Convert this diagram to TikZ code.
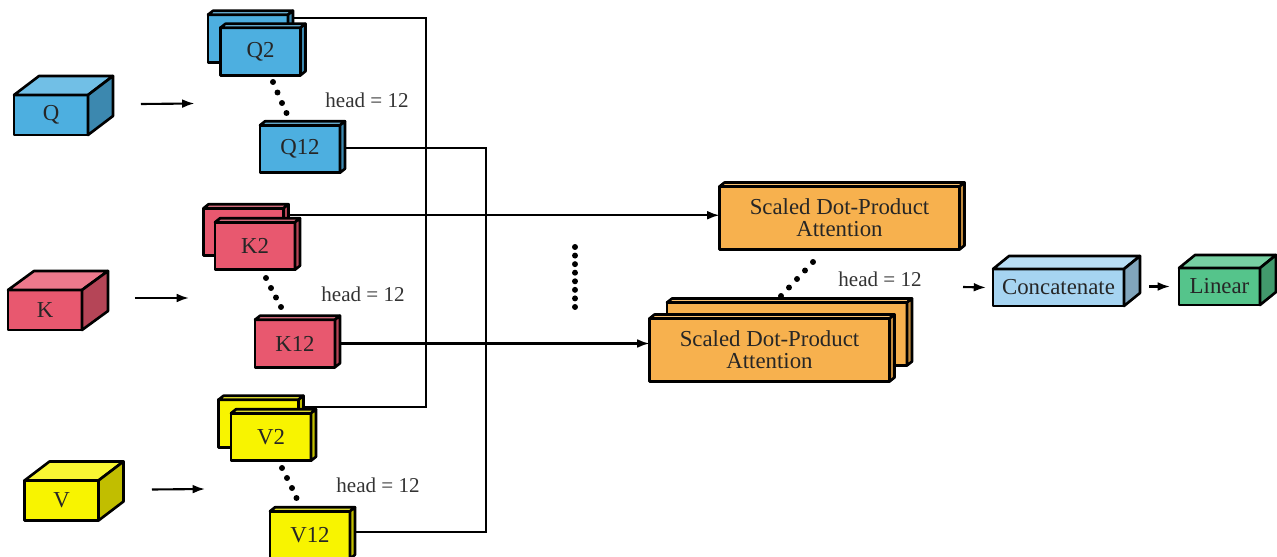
\documentclass[tikz,border=0pt]{standalone}
\usepackage{fontspec}
\setmainfont{Liberation Serif}
\usetikzlibrary{arrows.meta, calc}
\definecolor{qblue}{HTML}{4DAFE0}
\definecolor{kred}{HTML}{E8586F}
\definecolor{vyellow}{HTML}{F8F400}
\definecolor{attorange}{HTML}{F7B14E}
\definecolor{catblue}{HTML}{A6D4F1}
\definecolor{lingreen}{HTML}{55C48B}

% top and right faces of a box node: node, depth x, depth y, colour
\newcommand{\boxsides}[4]{%
  \filldraw[boxline, fill=#4!80!white] (#1.north west) -- ++(#2,-#3)
    -- ($(#1.north east)+(#2,-#3)$) -- (#1.north east) -- cycle;
  \filldraw[boxline, fill=#4!78!black] (#1.north east) -- ++(#2,-#3)
    -- ($(#1.south east)+(#2,-#3)$) -- (#1.south east) -- cycle;
}

\begin{document}
\begin{tikzpicture}[
      x=0.02cm, y=-0.02cm,
      boxline/.style={draw, line width=1.5pt, line join=round},
      block/.style={boxline, outer sep=0pt, inner sep=0pt,
        font=\fontsize{13}{12.5}\selectfont, text=black!85},
      bigbox/.style={block, minimum width=1.48cm, minimum height=0.8cm},
      card/.style={block, minimum width=1.6cm, minimum height=0.95cm},
      attbox/.style={block, fill=attorange, minimum width=4.8cm,
        minimum height=1.26cm, align=center},
      headlbl/.style={font=\fontsize{12}{14}\selectfont, text=black!80},
      link/.style={line width=1.2pt},
      >={Latex[length=7pt,width=5pt]}
    ]
      \useasboundingbox (0,0) rectangle (1277,557);

      % inputs
      \node[bigbox, fill=qblue] (Q) at (51,115) {Q};
      \boxsides{Q}{25}{19}{qblue}
      \node[bigbox, fill=kred] (K) at (45,310) {K};
      \boxsides{K}{26}{19}{kred}
      \node[bigbox, fill=vyellow] (V) at (61.5,500.5) {V};
      \boxsides{V}{25}{19}{vyellow}

      % split into heads
      \node[card, fill=qblue] (Q2b) at (248,38.5) {};
      \boxsides{Q2b}{5}{4}{qblue}
      \node[card, fill=qblue] (Q2f) at (260.5,51.5) {Q2};
      \boxsides{Q2f}{5}{4}{qblue}
      \node[card, fill=qblue] (Q12) at (300,149) {Q12};
      \boxsides{Q12}{5}{4}{qblue}

      \node[card, fill=kred] (K2b) at (243.5,232) {};
      \boxsides{K2b}{5}{4}{kred}
      \node[card, fill=kred] (K2f) at (255,246) {K2};
      \boxsides{K2f}{5}{4}{kred}
      \node[card, fill=kred] (K12) at (295,343.5) {K12};
      \boxsides{K12}{5}{4}{kred}

      \node[card, fill=vyellow] (V2b) at (258.5,423.5) {};
      \boxsides{V2b}{5}{4}{vyellow}
      \node[card, fill=vyellow] (V2f) at (271,437) {V2};
      \boxsides{V2f}{5}{4}{vyellow}
      \node[card, fill=vyellow] (V12) at (310,535) {V12};
      \boxsides{V12}{5}{4}{vyellow}

      \draw[link, ->] ($(Q.east)+(53,-11)$) -- ($(Q2f.west)+(-26,52)$);
      \draw[link, ->] ($(K.east)+(53,-12)$) -- ($(K2f.west)+(-26,52)$);
      \draw[link, ->] ($(V.east)+(53.5,-11)$) -- ($(V2f.west)+(-26,52)$);

      \foreach \x/\y in {273/82, 277.5/92.5, 282/103, 286.5/113,
                         266/278, 271/288, 276/297.5, 281/307,
                         282/468, 287/478, 292/488, 296.5/498}
        \fill (\x,\y) circle[radius=1.7pt];

      \node[headlbl] (hq) at (367,100) {head = 12};
      \node[headlbl] (hk) at (363,294) {head = 12};
      \node[headlbl] (hv) at (378,485) {head = 12};

      % attention heads
      \node[attbox] (Att1) at (839.5,218) {Scaled Dot-Product\\Attention};
      \boxsides{Att1}{5}{4}{attorange}
      \node[attbox] (Att2b) at (787,334) {};
      \boxsides{Att2b}{5}{4}{attorange}
      \node[attbox] (Att2f) at (769.5,350) {Scaled Dot-Product\\Attention};
      \boxsides{Att2f}{5}{4}{attorange}

      \foreach \i in {0,...,7}
        \fill (575,247+\i*8.57) circle[radius=1.7pt];
      \foreach \x/\y in {781/296, 789/287.5, 797/279, 805/270.5, 813/262}
        \fill (\x,\y) circle[radius=1.7pt];
      \node[headlbl] (ha) at (880,279) {head = 12};

      % wiring between heads
      \coordinate (busa) at (426,200);
      \coordinate (busb) at (486,300);
      \draw[link] ([shift={(5,3)}]Q2b.north east) -| (busa)
        |- ([shift={(5,7)}]V2b.north east);
      \draw[link] ([shift={(5,-1)}]Q12.east) -| (busb)
        |- ([shift={(5,-3)}]V12.east);
      \coordinate (k2out) at ([shift={(5,7)}]K2b.north east);
      \draw[link, ->] (k2out) -- (k2out -| Att1.west);
      \coordinate (k12out) at ([shift={(5,0)}]K12.east);
      \draw[link, ->] (k12out) -- (k12out -| Att2f.west);

      % output
      \node[block, fill=catblue, minimum width=2.62cm, minimum height=0.74cm]
        (Concat) at (1058.5,287.5) {Concatenate};
      \boxsides{Concat}{16}{13}{catblue}
      \node[block, fill=lingreen, minimum width=1.62cm, minimum height=0.74cm]
        (Linear) at (1219.5,286.5) {Linear};
      \boxsides{Linear}{16}{13}{lingreen}

      \coordinate (catin) at (963,287);
      \draw[link, ->] (catin) -- ([shift={(-7,0)}]Concat.west);
      \draw[link, ->] ([shift={(25,-1)}]Concat.east) -- ([shift={(-9,0)}]Linear.west);
    \end{tikzpicture}
\end{document}
